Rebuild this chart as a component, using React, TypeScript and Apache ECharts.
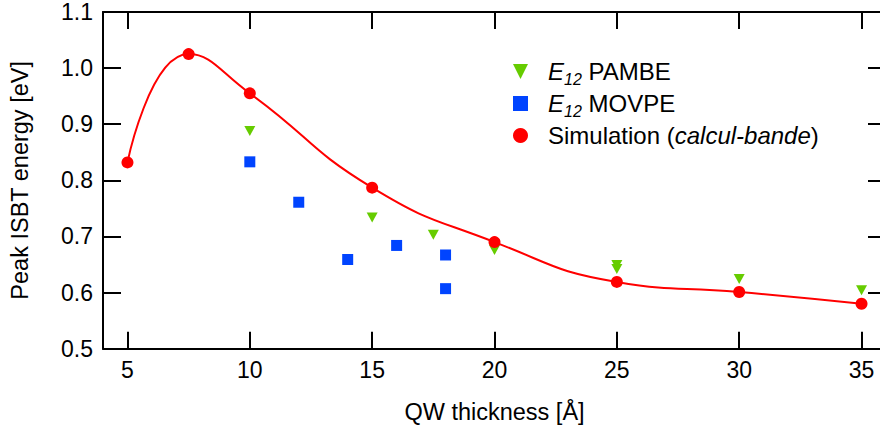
import React, { useEffect, useRef } from "react";
import * as echarts from "echarts";

const simX = [5, 7.5, 10, 15, 20, 25, 30, 35];
const simY = [0.832, 1.025, 0.955, 0.787, 0.69, 0.619, 0.601, 0.58];
const pambeX = [10, 15, 17.5, 20, 25, 25, 30, 35];
const pambeY = [0.888, 0.734, 0.703, 0.676, 0.649, 0.642, 0.624, 0.604];
const movpeX = [10, 12, 14, 16, 18, 18];
const movpeY = [0.833, 0.761, 0.659, 0.684, 0.667, 0.607];
const xTicks = [5, 10, 15, 20, 25, 30, 35];
const seriesNames = ["E12 PAMBE", "E12 MOVPE", "Simulation (calcul-bande)"];
const legendLabels = [
  "{pad| }{i|E}{sub|12}{n| PAMBE}",
  "{pad| }{i|E}{sub|12}{n| MOVPE}",
  "{pad| }{n|Simulation (}{i|calcul-bande}{n|)}",
];

const FONT = "'Liberation Sans', Arial, sans-serif";
const BLACK = "#000";
const RED = "#ff0000";
const GREEN = "#66cc00";
const BLUE = "#0044ff";

const pairs = (xs: number[], ys: number[]) => xs.map((x, i) => [x, ys[i]]);

export default function App() {
  const ref = useRef<HTMLDivElement>(null);
  useEffect(() => {
    if (!ref.current) return;
    const chart = echarts.init(ref.current, null, { renderer: "svg" });
    const axisLine = { show: true, onZero: false, lineStyle: { color: BLACK, width: 2 } };
    const tickStyle = { color: BLACK, width: 2 };
    chart.setOption({
      animation: false,
      backgroundColor: "#fff",
      textStyle: { fontFamily: FONT },
      grid: { left: 103, top: 12, right: 4, bottom: 85.3 },
      legend: {
        orient: "vertical",
        left: 508,
        top: 54.5,
        itemWidth: 15,
        itemHeight: 15,
        itemGap: 4.5,
        data: [
          { name: seriesNames[0], icon: "path://M0,0L10,0L5,10Z" },
          { name: seriesNames[1], icon: "rect" },
          { name: seriesNames[2], icon: "circle" },
        ],
        formatter: (name: string) => legendLabels[seriesNames.indexOf(name)],
        textStyle: {
          rich: {
            pad: { width: 15, fontSize: 24, lineHeight: 31, fontFamily: FONT },
            n: { fontSize: 24, lineHeight: 31, color: BLACK, fontFamily: FONT },
            i: { fontSize: 24, lineHeight: 31, color: BLACK, fontStyle: "italic", fontFamily: FONT },
            sub: {
              fontSize: 16,
              lineHeight: 15,
              color: BLACK,
              fontStyle: "italic",
              verticalAlign: "bottom",
              fontFamily: FONT,
            },
          },
        },
      },
      xAxis: [
        {
          type: "value",
          position: "bottom",
          min: 4,
          max: 36,
          axisLine,
          axisTick: { inside: true, length: 17, lineStyle: tickStyle, customValues: xTicks },
          axisLabel: { customValues: xTicks, fontSize: 23, color: BLACK, margin: 10, fontFamily: FONT },
          splitLine: { show: false },
          name: "QW thickness [Å]",
          nameLocation: "middle",
          nameGap: 51,
          nameTextStyle: { fontSize: 23.5, color: BLACK, fontFamily: FONT },
        },
        {
          type: "value",
          position: "top",
          min: 4,
          max: 36,
          axisLine,
          axisTick: { inside: true, length: 17, lineStyle: tickStyle, customValues: xTicks },
          axisLabel: { show: false },
          splitLine: { show: false },
        },
      ],
      yAxis: [
        {
          type: "value",
          position: "left",
          min: 0.5,
          max: 1.1,
          interval: 0.1,
          axisLine,
          axisTick: { inside: true, length: 18, lineStyle: tickStyle },
          axisLabel: {
            fontSize: 23,
            color: BLACK,
            margin: 10,
            fontFamily: FONT,
            formatter: (v: number) => v.toFixed(1),
          },
          splitLine: { show: false },
          name: "Peak ISBT energy [eV]",
          nameLocation: "middle",
          nameGap: 71,
          nameTextStyle: { fontSize: 23.5, color: BLACK, fontFamily: FONT },
        },
        {
          type: "value",
          position: "right",
          min: 0.5,
          max: 1.1,
          interval: 0.1,
          axisLine,
          axisTick: { inside: true, length: 18, lineStyle: tickStyle },
          axisLabel: { show: false },
          splitLine: { show: false },
        },
      ],
      series: [
        {
          name: seriesNames[2],
          type: "line",
          smooth: true,
          data: pairs(simX, simY),
          symbol: "circle",
          symbolSize: 12,
          lineStyle: { color: RED, width: 2 },
          itemStyle: { color: RED, opacity: 1 },
        },
        {
          name: seriesNames[0],
          type: "scatter",
          data: pairs(pambeX, pambeY),
          symbol: "triangle",
          symbolRotate: 180,
          symbolSize: [11, 10],
          itemStyle: { color: GREEN, opacity: 1 },
        },
        {
          name: seriesNames[1],
          type: "scatter",
          data: pairs(movpeX, movpeY),
          symbol: "rect",
          symbolSize: 11,
          itemStyle: { color: BLUE, opacity: 1 },
        },
      ],
    });
    return () => chart.dispose();
  }, []);
  return (
    <div style={{ position: "fixed", left: 0, top: 0, width: 880, height: 434, overflow: "hidden", background: "#fff" }}>
      <div ref={ref} style={{ width: 890, height: 434 }} />
    </div>
  );
}
